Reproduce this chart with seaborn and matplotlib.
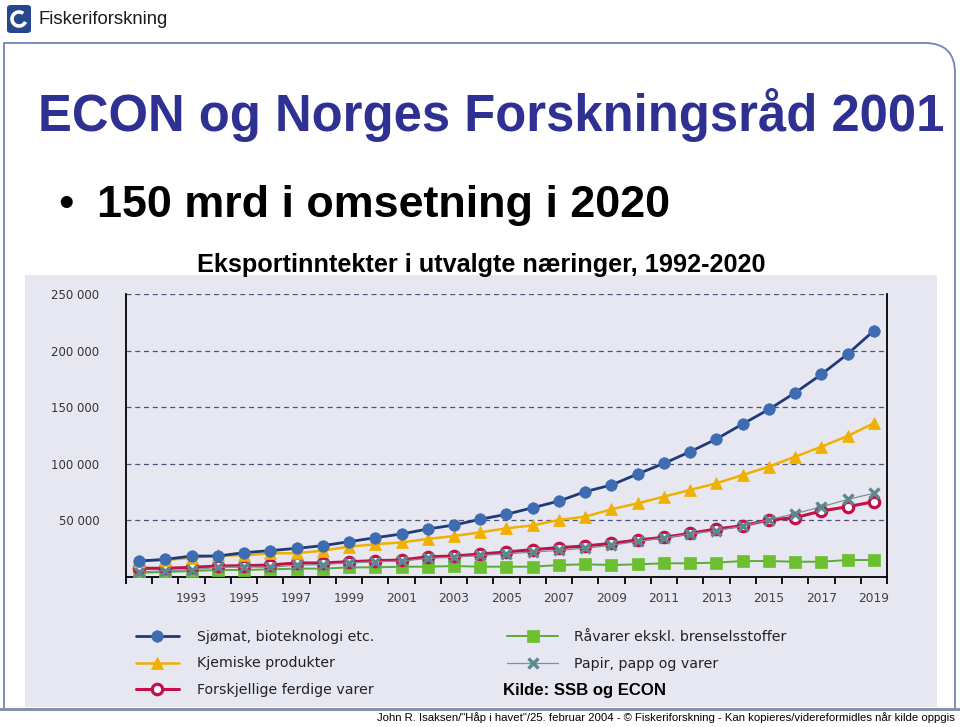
import matplotlib
matplotlib.use("Agg")
import matplotlib.pyplot as plt
from matplotlib.patches import FancyBboxPatch, Rectangle, Arc, PathPatch
from matplotlib.path import Path
from matplotlib.lines import Line2D
import seaborn as sns
import pandas as pd

# ---------------- data ----------------
years = list(range(1991, 2020))
sjomat = [14.1, 15.6, 18.5, 18.5, 21.5, 23.3, 25.3, 27.7, 31.2, 34.7, 38.0, 42.4, 45.9, 51.0,
          55.4, 61.2, 67.1, 75.4, 81.3, 91.0, 100.4, 110.7, 121.9, 135.2, 148.1, 162.8, 179.0,
          197.0, 217.6]
kjemiske = [14.1, 15.0, 17.0, 19.1, 19.1, 20.9, 21.0, 23.3, 26.8, 28.9, 30.6, 33.6, 36.2, 39.5,
            43.0, 45.6, 50.4, 53.3, 59.8, 65.1, 71.0, 76.9, 82.8, 90.1, 97.5, 106.3, 115.1,
            124.6, 135.8]
forskjellige = [7.7, 7.7, 8.5, 9.7, 10.0, 10.6, 12.4, 12.4, 13.5, 14.4, 15.0, 17.9, 18.5, 20.3,
                22.1, 24.2, 25.9, 27.4, 29.7, 32.7, 35.0, 38.6, 42.4, 45.3, 50.4, 52.4, 58.3,
                62.1, 66.5]
ravarer = [3.8, 4.4, 5.3, 6.2, 6.2, 6.8, 7.4, 7.4, 8.5, 8.5, 9.1, 9.1, 9.7, 9.1, 9.1, 9.1,
           10.6, 11.2, 10.6, 11.2, 12.1, 12.1, 12.7, 14.1, 14.1, 13.5, 13.5, 15.0, 15.0]
papir = [4.5, 5.5, 6.5, 8.5, 9.0, 8.5, 10.5, 11.0, 12.5, 13.5, 14.0, 16.5, 17.5, 19.0, 20.5,
         22.0, 23.5, 25.5, 28.0, 31.5, 34.5, 38.0, 41.0, 45.0, 50.5, 56.0, 62.0, 68.5, 74.0]

series_names = ["Sjømat, bioteknologi etc.", "Kjemiske produkter", "Forskjellige ferdige varer",
                "Råvarer ekskl. brenselsstoffer", "Papir, papp og varer"]
series_values = [sjomat, kjemiske, forskjellige, ravarer, papir]
ytick_values = [50000, 100000, 150000, 200000, 250000]
ytick_labels = ["50 000", "100 000", "150 000", "200 000", "250 000"]
xtick_years = list(range(1993, 2020, 2))

title = "ECON og Norges Forskningsråd 2001"
bullet = "150 mrd i omsetning i 2020"
subtitle = "Eksportinntekter i utvalgte næringer, 1992-2020"
source = "Kilde: SSB og ECON"
footer = ('John R. Isaksen/"Håp i havet"/25. februar 2004 - © Fiskeriforskning - '
          'Kan kopieres/videreformidles når kilde oppgis')
logo_text = "Fiskeriforskning"

rows = []
for name, vals in zip(series_names, series_values):
    for yr, v in zip(years, vals):
        rows.append({"year": yr, "value": v * 1000, "series": name})
df = pd.DataFrame(rows)

# ---------------- style ----------------
sns.set_theme(style="white")
plt.rcParams["font.family"] = ["DejaVu Sans"]

W, H = 960, 727
fig = plt.figure(figsize=(W / 100, H / 100), dpi=100)
fig.patch.set_facecolor("white")

def fx(px):
    return px / W

def fy(py):
    return 1 - py / H

panel_col = "#e7e7f1"
sans = ["Liberation Sans", "DejaVu Sans"]

# slide frame: square top-left, rounded top-right
r = 30
verts = [(fx(4), fy(708)), (fx(4), fy(43)), (fx(955 - r), fy(43)),
         (fx(955), fy(43)), (fx(955), fy(43 + r)), (fx(955), fy(708))]
codes = [Path.MOVETO, Path.LINETO, Path.LINETO, Path.CURVE3, Path.CURVE3, Path.LINETO]
fig.patches.append(PathPatch(Path(verts, codes), transform=fig.transFigure,
                             facecolor="none", edgecolor="#7383b3", lw=1.3, zorder=0))
# chart panel
fig.patches.append(Rectangle((fx(25), fy(707)), fx(912), (707 - 275) / H,
                             transform=fig.transFigure, facecolor=panel_col,
                             edgecolor="none", zorder=1))
# bottom line
fig.add_artist(Line2D([0, 1], [fy(709), fy(709)], transform=fig.transFigure,
                      color="#8493aa", lw=2.2, zorder=2))

# logo
fig.patches.append(FancyBboxPatch((fx(7), fy(33)), fx(24), 28 / H,
                                  boxstyle="round,pad=0,rounding_size=0.004",
                                  transform=fig.transFigure, facecolor="#25478c",
                                  edgecolor="none", zorder=3))
fig.add_artist(Arc((fx(19), fy(19)), fx(14), 14 / H, theta1=60, theta2=330,
                   transform=fig.transFigure, color="white", lw=2.6, zorder=4))
fig.text(fx(38), fy(19), logo_text, fontsize=13.3, family=sans,
         color="#1a1a1a", va="center", ha="left")

# texts
fig.text(fx(491), fy(115), title, fontsize=36.5, fontweight="bold", color="#2e3192",
         family=sans, ha="center", va="center")
fig.text(fx(66), fy(205), "•", fontsize=32, color="black",
         family=sans, ha="center", va="center")
fig.text(fx(97), fy(205), bullet, fontsize=32.3, fontweight="bold", color="black",
         family=sans, ha="left", va="center")
fig.text(fx(481.5), fy(265), subtitle, fontsize=18.2, fontweight="bold", color="black",
         family=sans, ha="center", va="center")
fig.text(fx(503), fy(691), source, fontsize=12.1, fontweight="bold", color="black",
         family=sans, ha="left", va="center")
fig.text(fx(955), fy(718), footer, fontsize=8.2, color="black",
         family=["Liberation Sans Narrow", "Liberation Sans", "DejaVu Sans"],
         ha="right", va="center")

# ---------------- axes ----------------
ax = fig.add_axes([fx(126), fy(577), fx(887 - 126), (577 - 294) / H])
ax.set_facecolor(panel_col)
ax.set_zorder(5)

styles = {
    series_names[3]: dict(color="#5aaa35", lw=1.4, marker="s", ms=8.5, mfc="#6cc030",
                          mec="#6cc030", mew=0.5),
    series_names[2]: dict(color="#c41048", lw=2.2, marker="o", ms=7.5, mfc="white",
                          mec="#c41048", mew=2.3),
    series_names[4]: dict(color="#7b9098", lw=0.9, marker="x", ms=7, mfc="none",
                          mec="#5c8890", mew=2.4),
    series_names[1]: dict(color="#f0b000", lw=1.8, marker="^", ms=8.5, mfc="#f0b000",
                          mec="#f0b000", mew=0.5),
    series_names[0]: dict(color="#1e3a78", lw=2.0, marker="o", ms=8.3, mfc="#3e6cb2",
                          mec="#3e6cb2", mew=0.5),
}
draw_order = [series_names[3], series_names[2], series_names[4], series_names[1], series_names[0]]
for name in draw_order:
    st = styles[name]
    sub = df[df["series"] == name]
    sns.lineplot(data=sub, x="year", y="value", ax=ax, color=st["color"], lw=st["lw"],
                 marker=st["marker"], markersize=st["ms"], markerfacecolor=st["mfc"],
                 markeredgecolor=st["mec"], markeredgewidth=st["mew"], label=name,
                 legend=False, zorder=3)

ax.set_xlim(years[0] - 0.5, years[-1] + 0.5)
ax.set_ylim(0, 250000)
ax.set_xlabel("")
ax.set_ylabel("")

ax.set_yticks(ytick_values)
ax.set_yticklabels(ytick_labels)
ax.tick_params(axis="y", which="major", length=3, width=1, color="black", direction="out",
               pad=16, labelsize=8.5, labelcolor="#333333")
ax.set_xticks(xtick_years)
ax.set_xticklabels([str(y) for y in xtick_years])
ax.set_xticks([y - 0.5 for y in years] + [years[-1] + 0.5], minor=True)
ax.tick_params(axis="x", which="major", length=0, pad=11, labelsize=8.8, labelcolor="#404040")
ax.tick_params(axis="x", which="minor", length=5, width=1.3, color="black", direction="out",
               bottom=True)

ax.yaxis.grid(True, linestyle=(0, (4, 3)), color="#4c5374", lw=0.9)
ax.xaxis.grid(False)
ax.set_axisbelow(True)
for side in ["left", "right", "bottom"]:
    ax.spines[side].set_visible(True)
    ax.spines[side].set_color("black")
    ax.spines[side].set_linewidth(1.3)
ax.spines["top"].set_visible(False)

# ---------------- legends ----------------
handles, labels = ax.get_legend_handles_labels()
hmap = dict(zip(labels, handles))
leg_font = dict(size=10.2, family="DejaVu Sans")
leg1 = ax.legend([hmap[n] for n in series_names[:3]], series_names[:3],
                 loc="center left", bbox_to_anchor=(fx(129), fy(663.5)),
                 bbox_transform=fig.transFigure, frameon=False, prop=leg_font,
                 handlelength=3.0, handletextpad=1.3, labelspacing=0.87, borderpad=0)
for t in leg1.get_texts():
    t.set_color("#222222")
ax.add_artist(leg1)
leg2 = ax.legend([hmap[n] for n in series_names[3:]], series_names[3:],
                 loc="center left", bbox_to_anchor=(fx(500), fy(650.5)),
                 bbox_transform=fig.transFigure, frameon=False, prop=leg_font,
                 handlelength=3.6, handletextpad=1.1, labelspacing=0.87, borderpad=0)
for t in leg2.get_texts():
    t.set_color("#222222")

fig.savefig("out.png", dpi=100)
